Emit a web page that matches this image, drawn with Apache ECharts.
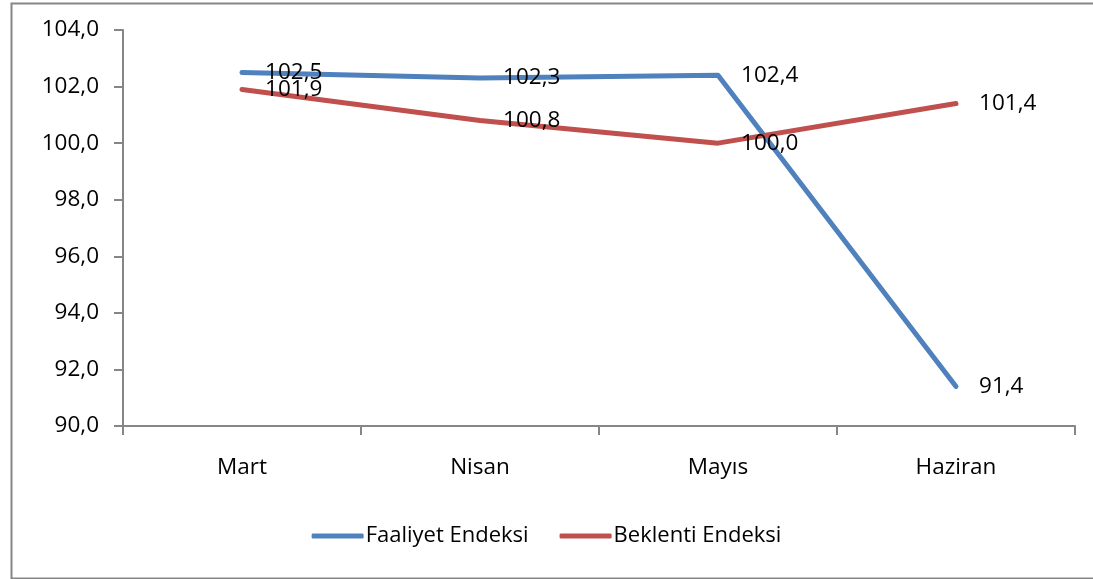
<!DOCTYPE html>
<html>
<head>
<meta charset="utf-8">
<script src="https://cdn.jsdelivr.net/npm/echarts@6/dist/echarts.min.js"></script>
<style>
html,body{margin:0;padding:0;background:#fff;}
#c{width:1093px;height:579px;}
</style>
</head>
<body>
<div id="c"></div>
<script>
const categories = ['Mart', 'Nisan', 'Mayıs', 'Haziran'];
const faaliyet = [102.5, 102.3, 102.4, 91.4];
const beklenti = [101.9, 100.8, 100.0, 101.4];
const seriesNames = ['Faaliyet Endeksi', 'Beklenti Endeksi'];
const yMin = 90, yMax = 104, yStep = 2;

const FONT = '"Open Sans", sans-serif';
const FS = 22.5;
const fmt = v => v.toFixed(1).replace('.', ',');

const chart = echarts.init(document.getElementById('c'), null, {renderer: 'canvas'});
const labelCfg = {
  show: true, position: 'right', distance: 23,
  color: '#000', fontFamily: FONT, fontSize: FS,
  formatter: p => fmt(p.value)
};
chart.setOption({
  animation: false,
  backgroundColor: '#fff',
  graphic: [{
    type: 'rect', left: 9, top: 1, silent: true, z: -1,
    shape: {width: 1100, height: 575},
    style: {fill: 'none', stroke: '#868686', lineWidth: 2}
  }],
  grid: {left: 123, right: 18, top: 30, bottom: 153, containLabel: false},
  legend: {
    bottom: 27, left: 'center',
    itemWidth: 52, itemHeight: 5, itemGap: 31,
    icon: 'roundRect',
    textStyle: {fontFamily: FONT, fontSize: 22, color: '#000', padding: [0,0,0,-3]},
    data: seriesNames
  },
  xAxis: {
    type: 'category', data: categories, boundaryGap: true,
    axisLine: {lineStyle: {color: '#868686', width: 2}},
    axisTick: {show: true, length: 9, lineStyle: {color: '#868686', width: 2}},
    axisLabel: {color: '#000', fontFamily: FONT, fontSize: FS, margin: 30}
  },
  yAxis: {
    type: 'value', min: yMin, max: yMax, interval: yStep,
    axisLine: {show: true, lineStyle: {color: '#868686', width: 2}},
    axisTick: {show: true, length: 9, lineStyle: {color: '#868686', width: 2}},
    splitLine: {show: false},
    axisLabel: {color: '#000', fontFamily: FONT, fontSize: FS, margin: 24, formatter: v => fmt(v)}
  },
  series: [
    {
      name: seriesNames[0], type: 'line', data: faaliyet,
      symbol: 'circle', symbolSize: 0.1, showSymbol: true,
      lineStyle: {color: '#4F81BD', width: 5, cap: 'round', join: 'round'},
      itemStyle: {color: '#4F81BD'},
      label: labelCfg
    },
    {
      name: seriesNames[1], type: 'line', data: beklenti,
      symbol: 'circle', symbolSize: 0.1, showSymbol: true,
      lineStyle: {color: '#C0504D', width: 5, cap: 'round', join: 'round'},
      itemStyle: {color: '#C0504D'},
      label: labelCfg
    }
  ]
});
</script>
</body>
</html>
